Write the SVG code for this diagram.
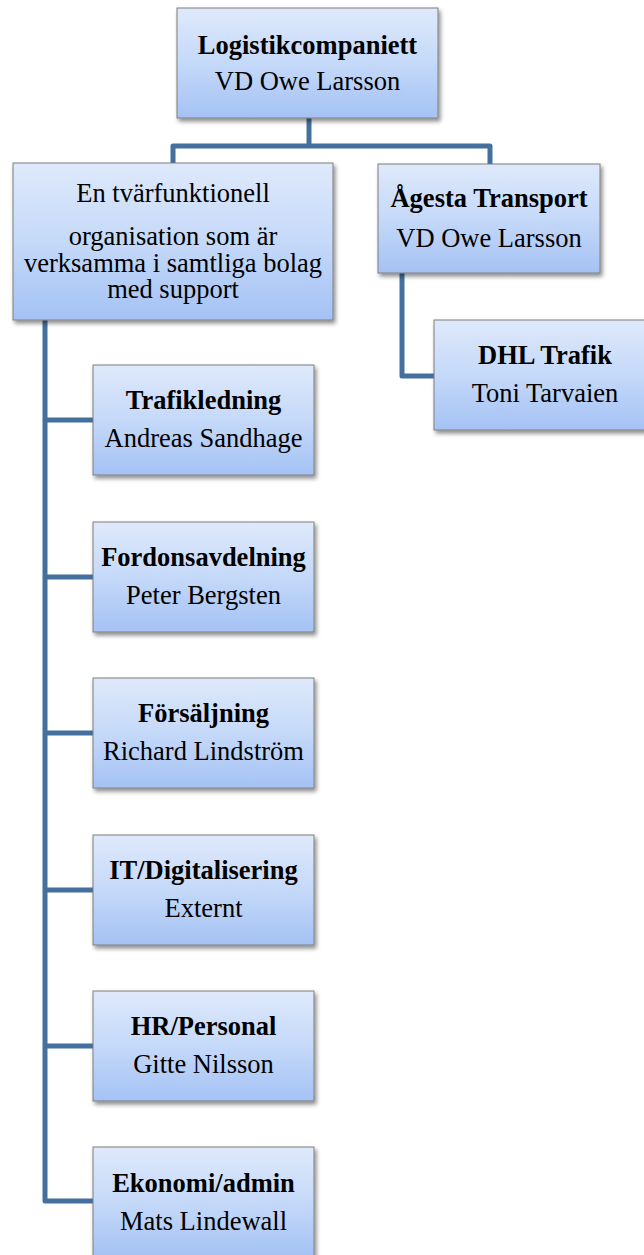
<svg xmlns="http://www.w3.org/2000/svg" width="644" height="1255" viewBox="0 0 644 1255">
  <defs>
    <linearGradient id="boxFill" x1="0" y1="0" x2="0" y2="1">
      <stop offset="0" stop-color="#dfe9fb"/>
      <stop offset="0.5" stop-color="#c5d9f9"/>
      <stop offset="1" stop-color="#a4c2f4"/>
    </linearGradient>
    <filter id="shadow" x="-10%" y="-10%" width="130%" height="140%">
      <feDropShadow dx="2" dy="3" stdDeviation="2" flood-color="#000" flood-opacity="0.45"/>
    </filter>
  </defs>
  <style>
    .box { fill: url(#boxFill); stroke: #7f7f7f; stroke-width: 1; filter: url(#shadow); }
    .link { fill: none; stroke: #44709f; stroke-width: 5; stroke-linejoin: round; stroke-linecap: butt; }
    text { font-family: "Liberation Serif", "Times New Roman", serif; font-size: 26.5px; fill: #000; text-anchor: middle; }
    .b { font-weight: bold; }
  </style>
  <rect width="644" height="1255" fill="#fff"/>

  <!-- connectors -->
  <g id="connectors">
    <path class="link" d="M309,118 V146"/>
    <path class="link" d="M173,164 V146 H490 V165"/>
    <path class="link" d="M402,273 V376 H435"/>
    <path class="link" d="M45,320 V1201 H94"/>
    <path class="link" d="M45,420 H94"/>
    <path class="link" d="M45,577 H94"/>
    <path class="link" d="M45,733 H94"/>
    <path class="link" d="M45,890 H94"/>
    <path class="link" d="M45,1046 H94"/>
  </g>

  <g id="logistikcompaniett">
    <rect class="box" x="177" y="8" width="261" height="110"/>
    <text class="b" x="307.5" y="54">Logistikcompaniett</text>
    <text x="307.5" y="90">VD Owe Larsson</text>
  </g>

  <g id="tvarfunktionell">
    <rect class="box" x="13" y="163" width="320" height="157"/>
    <text x="173" y="202">En tvärfunktionell</text>
    <text x="173" y="245">organisation som är</text>
    <text x="173" y="272">verksamma i samtliga bolag</text>
    <text x="173" y="298">med support</text>
  </g>

  <g id="agesta-transport">
    <rect class="box" x="378" y="164" width="222" height="109"/>
    <text class="b" x="489" y="207">Ågesta Transport</text>
    <text x="489" y="247">VD Owe Larsson</text>
  </g>

  <g id="dhl-trafik">
    <rect class="box" x="434" y="320" width="222" height="110"/>
    <text class="b" x="545" y="364">DHL Trafik</text>
    <text x="545" y="402">Toni Tarvaien</text>
  </g>

  <g id="trafikledning">
    <rect class="box" x="93" y="365" width="221" height="110"/>
    <text class="b" x="203.5" y="409">Trafikledning</text>
    <text x="203.5" y="447">Andreas Sandhage</text>
  </g>

  <g id="fordonsavdelning">
    <rect class="box" x="93" y="522" width="221" height="110"/>
    <text class="b" x="203.5" y="566">Fordonsavdelning</text>
    <text x="203.5" y="604">Peter Bergsten</text>
  </g>

  <g id="forsaljning">
    <rect class="box" x="93" y="678" width="221" height="110"/>
    <text class="b" x="203.5" y="722">Försäljning</text>
    <text x="203.5" y="760">Richard Lindström</text>
  </g>

  <g id="it-digitalisering">
    <rect class="box" x="93" y="835" width="221" height="110"/>
    <text class="b" x="203.5" y="879">IT/Digitalisering</text>
    <text x="203.5" y="917">Externt</text>
  </g>

  <g id="hr-personal">
    <rect class="box" x="93" y="991" width="221" height="110"/>
    <text class="b" x="203.5" y="1035">HR/Personal</text>
    <text x="203.5" y="1073">Gitte Nilsson</text>
  </g>

  <g id="ekonomi-admin">
    <rect class="box" x="93" y="1147" width="221" height="110"/>
    <text class="b" x="203.5" y="1192">Ekonomi/admin</text>
    <text x="203.5" y="1230">Mats Lindewall</text>
  </g>
</svg>
